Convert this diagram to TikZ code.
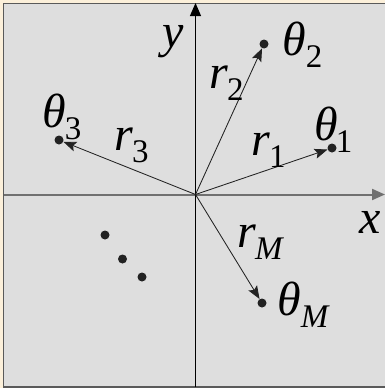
\documentclass[tikz,border=0pt]{standalone}
\usepackage{fontspec}
\setmainfont{Liberation Serif}
\usetikzlibrary{arrows.meta}
\definecolor{outer}{HTML}{FCF0DA}
\definecolor{panel}{HTML}{DEDEDE}
\definecolor{frame}{HTML}{5A5A5A}
\definecolor{xaxis}{HTML}{707070}
\definecolor{ink}{HTML}{222222}
\newcommand{\mainsz}{\fontsize{48}{48}\selectfont}
\newcommand{\subsz}{\fontsize{33}{33}\selectfont}
\newcommand{\lbl}[3]{\mainsz\textit{#1}\kern#3\raisebox{-12pt}{\subsz #2}}
\tikzset{
  dot/.style={circle,fill=ink,inner sep=0pt,minimum size=9pt},
  vec/.style={draw=ink,line width=0.85pt,-{Stealth[length=13pt,width=10pt,inset=2.5pt]}},
  lab/.style={inner sep=0pt,anchor=base west,text=black},
}
\begin{document}
\begin{tikzpicture}[x=1pt,y=-1pt]
\useasboundingbox (0,0) rectangle (385,388);
\fill[outer] (0,0) rectangle (385,388);
\draw[frame,fill=panel,line width=1.6pt] (3.5,3.5) rectangle (390,386.8);
% axes
\coordinate (O) at (195.5,194.5);
\coordinate (xl) at (3.5,194.5);
\coordinate (xr) at (385,194.5);
\coordinate (yb) at (195.5,386.8);
\coordinate (yt) at (195.5,3);
\draw[xaxis,line width=2pt,-{Triangle[length=13pt,width=11pt]}] (xl) -- (xr);
\draw[black,line width=1.1pt,-{Triangle[length=13pt,width=11pt]}] (yb) -- (yt);
% points
\node[dot] (t1) at (332,148) {};
\node[dot] (t2) at (264,44) {};
\node[dot] (t3) at (59,140) {};
\node[dot] (tM) at (262,303) {};
\node[dot] (d1) at (105,235) {};
\node[dot,minimum width=7.6pt,minimum height=9pt] (d2) at (122.5,259) {};
\node[dot] (d3) at (142,277) {};
% vectors
\draw[vec] (O) -- (t1);
\draw[vec] (O) -- (t2);
\draw[vec] (O) -- (t3);
\draw[vec] (O) -- (tM);
% labels
\node[lab] (ly) at (162,47) {\mainsz\textit{y}};
\node[lab] (lx) at (359,233) {\mainsz\textit{x}};
\node[lab] (lt2) at (282,55) {\lbl{θ}{2}{0pt}};
\node[lab] (lr2) at (209,88) {\lbl{r}{2}{-1pt}};
\node[lab] (lt3) at (42,127) {\lbl{θ}{3}{-1pt}};
\node[lab] (lr3) at (114,150) {\lbl{r}{3}{-1pt}};
\node[lab] (lt1) at (314,140) {\lbl{θ}{1}{-2pt}};
\node[lab] (lr1) at (251,155) {\lbl{r}{1}{-1pt}};
\node[lab] (lrM) at (237,247) {\lbl{r}{\textit{M}}{-1pt}};
\node[lab] (ltM) at (277,315) {\lbl{θ}{\textit{M}}{0pt}};
\end{tikzpicture}
\end{document}
